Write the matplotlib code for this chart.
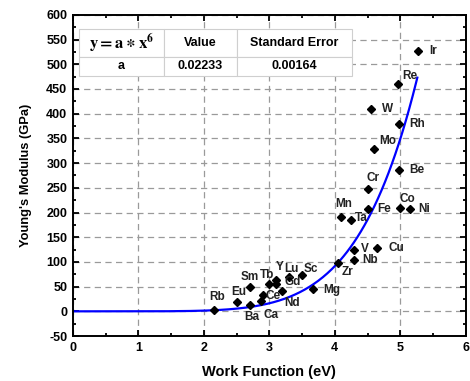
import numpy as np
import matplotlib.pyplot as plt
from matplotlib.ticker import MultipleLocator

plt.rcParams['font.family'] = ['Liberation Sans', 'DejaVu Sans']
plt.rcParams['font.weight'] = 'bold'
plt.rcParams['mathtext.fontset'] = 'stix'
plt.rcParams['axes.unicode_minus'] = False

elements = ["Rb", "Eu", "Ba", "Sm", "Ca", "Ce", "Tb", "Y", "Gd", "Nd", "Lu", "Sc", "Mg",
            "Zr", "Nb", "V", "Cu", "Mn", "Ta", "Fe", "Cr", "Co", "Ni", "Be", "Mo", "Rh",
            "W", "Re", "Ir"]
work_function = [2.16, 2.50, 2.70, 2.70, 2.87, 2.90, 3.00, 3.10, 3.10, 3.20, 3.30, 3.50, 3.66,
                 4.05, 4.30, 4.30, 4.65, 4.10, 4.25, 4.50, 4.50, 5.00, 5.15, 4.98, 4.60, 4.98,
                 4.55, 4.96, 5.27]
youngs_modulus = [2, 18, 13, 50, 20, 34, 56, 64, 55, 41, 69, 74, 45,
                  98, 104, 125, 128, 190, 185, 208, 248, 209, 207, 287, 328, 379,
                  409, 460, 527]

# label offsets in pixels (dx, dy with y pointing up)
label_offsets = {
    "Rb": (3, 13), "Eu": (2, 10), "Ba": (2, -12), "Sm": (0, 10), "Ca": (10, -14),
    "Ce": (10, -1), "Tb": (-2, 9), "Y": (4, 13), "Gd": (17, 2), "Nd": (10, -12),
    "Lu": (2, 8), "Sc": (9, 6), "Mg": (19, -1), "Zr": (9, -9), "Nb": (16, 0),
    "V": (10, 1), "Cu": (19, 0), "Mn": (2, 13), "Ta": (10, 2), "Fe": (17, 0),
    "Cr": (5, 11), "Co": (7, 9), "Ni": (14, 0), "Be": (18, 0), "Mo": (14, 8),
    "Rh": (18, 0), "W": (17, 0), "Re": (12, 8), "Ir": (15, 0),
}

fit_a = 0.02233
fit_err = 0.00164
x_fit_max = 5.26

fig = plt.figure(figsize=(4.70, 3.81), dpi=100)
ax = fig.add_axes([0.155, 0.118, 0.836, 0.843])

ax.set_xlim(0, 6)
ax.set_ylim(-50, 600)
ax.xaxis.set_major_locator(MultipleLocator(1))
ax.xaxis.set_minor_locator(MultipleLocator(0.5))
ax.yaxis.set_major_locator(MultipleLocator(50))
ax.yaxis.set_minor_locator(MultipleLocator(25))
ax.tick_params(which='both', direction='in', top=True, right=True, width=1.3,
               labelsize=9, pad=4)
ax.tick_params(which='major', length=4.5)
ax.tick_params(which='minor', length=2.5)
for s in ax.spines.values():
    s.set_linewidth(1.4)
ax.grid(True, which='major', color='#9a9a9a', linestyle=(0, (5, 3.5)), linewidth=0.9)
ax.set_axisbelow(True)

xs = np.linspace(0, x_fit_max, 300)
ax.plot(xs, fit_a * xs ** 6, color='#0000ff', lw=1.6, zorder=2)
ax.plot(work_function, youngs_modulus, 'D', color='black', markersize=4.3, zorder=3)

for name, x, y in zip(elements, work_function, youngs_modulus):
    dx, dy = label_offsets[name]
    ax.annotate(name, (x, y), xytext=(dx, dy), textcoords='offset pixels',
                ha='center', va='center', fontsize=8.5, fontweight='bold', color='#222222',
                zorder=4)

ax.set_xlabel("Work Function (eV)", fontsize=10.5, fontweight='bold', labelpad=8)
ax.set_ylabel("Young's Modulus (GPa)", fontsize=9.3, fontweight='bold', labelpad=10)

cells = [[r"$\mathbf{y = a \ast x^{6}}$", "Value", "Standard Error"],
         ["a", f"{fit_a:.5f}", f"{fit_err:.5f}"]]
tab = ax.table(cellText=cells, colWidths=[85, 73, 115], cellLoc='center',
               bbox=[0.0153, 0.810, 0.695, 0.146], zorder=5)
tab.auto_set_font_size(False)
for (r, c), cell in tab.get_celld().items():
    cell.set_edgecolor('#cfcfcf')
    cell.set_linewidth(0.8)
    cell.set_facecolor('white')
    cell.set_height(28 if r == 0 else 19)
    cell.get_text().set_fontsize(12 if (r, c) == (0, 0) else 9)
    cell.get_text().set_fontweight('bold')

fig.savefig("out.png", dpi=100)
